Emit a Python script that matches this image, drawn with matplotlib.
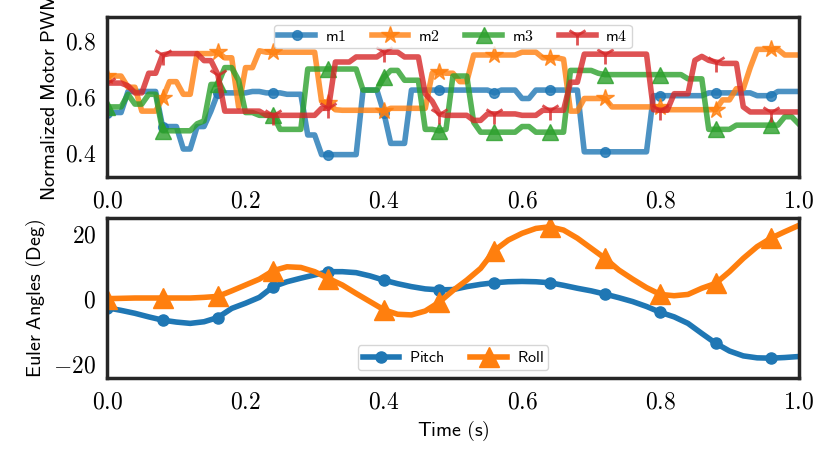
import numpy as np
import matplotlib
matplotlib.use('Agg')
import matplotlib.pyplot as plt
from matplotlib.ticker import FuncFormatter

# Motor PWM, sampled every 0.01 s
t_motor = np.linspace(0.0, 1.0, 101)
m1 = [0.54, 0.54, 0.54, 0.615, 0.615, 0.615, 0.615, 0.615, 0.49, 0.49,
      0.49, 0.41, 0.41, 0.49, 0.49, 0.545, 0.61, 0.61, 0.61, 0.61,
      0.61, 0.615, 0.615, 0.61, 0.61, 0.61, 0.605, 0.605, 0.605, 0.46,
      0.46, 0.39, 0.39, 0.39, 0.39, 0.39, 0.39, 0.62, 0.62, 0.62,
      0.54, 0.43, 0.43, 0.43, 0.62, 0.62, 0.62, 0.62, 0.62, 0.62,
      0.62, 0.62, 0.62, 0.62, 0.62, 0.62, 0.61, 0.62, 0.62, 0.62,
      0.59, 0.59, 0.62, 0.62, 0.62, 0.62, 0.62, 0.62, 0.62, 0.40,
      0.40, 0.40, 0.40, 0.40, 0.40, 0.40, 0.40, 0.40, 0.40, 0.60,
      0.60, 0.60, 0.60, 0.60, 0.60, 0.60, 0.60, 0.61, 0.61, 0.61,
      0.61, 0.61, 0.61, 0.61, 0.60, 0.60, 0.60, 0.615, 0.615, 0.615,
      0.615]
m2 = [0.67, 0.67, 0.67, 0.63, 0.63, 0.545, 0.545, 0.545, 0.59, 0.65,
      0.65, 0.605, 0.605, 0.75, 0.75, 0.75, 0.755, 0.735, 0.735, 0.56,
      0.70, 0.70, 0.76, 0.755, 0.755, 0.755, 0.755, 0.755, 0.755, 0.755,
      0.755, 0.58, 0.575, 0.55, 0.548, 0.548, 0.548, 0.548, 0.548, 0.548,
      0.545, 0.555, 0.555, 0.555, 0.555, 0.555, 0.555, 0.68, 0.685, 0.68,
      0.68, 0.65, 0.65, 0.745, 0.745, 0.745, 0.745, 0.745, 0.745, 0.745,
      0.755, 0.755, 0.755, 0.735, 0.735, 0.735, 0.73, 0.545, 0.545, 0.59,
      0.59, 0.59, 0.59, 0.56, 0.56, 0.56, 0.56, 0.56, 0.56, 0.56,
      0.56, 0.55, 0.55, 0.55, 0.55, 0.55, 0.55, 0.55, 0.55, 0.585,
      0.585, 0.625, 0.625, 0.70, 0.765, 0.765, 0.765, 0.765, 0.745, 0.745,
      0.745]
m3 = [0.56, 0.56, 0.56, 0.605, 0.57, 0.57, 0.605, 0.605, 0.475, 0.475,
      0.475, 0.475, 0.475, 0.50, 0.51, 0.64, 0.64, 0.70, 0.70, 0.655,
      0.54, 0.54, 0.53, 0.53, 0.53, 0.48, 0.48, 0.48, 0.48, 0.695,
      0.695, 0.695, 0.695, 0.695, 0.695, 0.695, 0.695, 0.62, 0.62, 0.62,
      0.665, 0.69, 0.69, 0.655, 0.655, 0.655, 0.48, 0.48, 0.475, 0.48,
      0.67, 0.67, 0.67, 0.505, 0.47, 0.47, 0.47, 0.47, 0.47, 0.47,
      0.49, 0.49, 0.47, 0.47, 0.47, 0.47, 0.47, 0.69, 0.69, 0.69,
      0.69, 0.68, 0.675, 0.675, 0.675, 0.675, 0.675, 0.675, 0.675, 0.675,
      0.675, 0.675, 0.675, 0.675, 0.66, 0.66, 0.66, 0.48, 0.48, 0.48,
      0.48, 0.495, 0.495, 0.495, 0.495, 0.495, 0.495, 0.495, 0.525, 0.525,
      0.50]
m4 = [0.645, 0.645, 0.645, 0.635, 0.61, 0.61, 0.68, 0.68, 0.745, 0.75,
      0.75, 0.75, 0.75, 0.75, 0.725, 0.725, 0.675, 0.545, 0.545, 0.545,
      0.545, 0.545, 0.545, 0.53, 0.53, 0.53, 0.53, 0.53, 0.53, 0.53,
      0.53, 0.555, 0.555, 0.72, 0.72, 0.72, 0.738, 0.738, 0.738, 0.738,
      0.755, 0.755, 0.755, 0.738, 0.738, 0.738, 0.607, 0.58, 0.535, 0.53,
      0.53, 0.53, 0.53, 0.512, 0.512, 0.535, 0.535, 0.535, 0.535, 0.535,
      0.53, 0.53, 0.53, 0.548, 0.548, 0.548, 0.548, 0.648, 0.648, 0.748,
      0.748, 0.748, 0.748, 0.748, 0.748, 0.748, 0.748, 0.748, 0.748, 0.55,
      0.548, 0.548, 0.607, 0.607, 0.607, 0.726, 0.74, 0.726, 0.72, 0.715,
      0.715, 0.715, 0.56, 0.542, 0.542, 0.542, 0.542, 0.542, 0.542, 0.542,
      0.542]

# Euler angles, sampled every 0.02 s
t_euler = np.linspace(0.0, 1.0, 51)
pitch = [-3.0, -3.8, -4.7, -5.8, -6.8, -7.4, -7.8, -7.3, -6.0, -3.2,
         -1.6, 0.2, 3.5, 5.0, 6.1, 7.1, 8.1, 8.1, 7.8, 6.8,
         5.5, 4.4, 3.5, 2.8, 2.5, 2.6, 3.5, 4.2, 4.7, 5.0,
         5.1, 5.0, 4.7, 3.9, 3.0, 2.2, 1.2, 0.1, -1.1, -2.6,
         -4.4, -5.8, -7.8, -10.9, -13.9, -16.3, -17.8, -18.4, -18.5, -18.3,
         -18.0]
roll = [-0.2, -0.1, 0.0, 0.0, 0.0, 0.0, 0.0, 0.2, 0.5, 2.2,
        4.0, 5.8, 8.4, 9.6, 9.4, 8.1, 6.0, 4.0, 1.4, -1.1,
        -3.6, -5.0, -5.2, -4.0, -1.3, 2.3, 5.5, 9.1, 14.6, 17.8,
        19.9, 21.4, 21.9, 20.9, 18.4, 15.3, 12.2, 8.6, 5.8, 3.2,
        1.1, 0.7, 1.1, 3.0, 4.5, 8.1, 12.2, 15.8, 18.4, 20.4,
        22.3]

plt.rcParams['mathtext.fontset'] = 'cm'

fig, (ax1, ax2) = plt.subplots(2, 1, figsize=(8.25, 4.5), dpi=100)
fig.subplots_adjust(left=0.13, right=0.968, top=0.962, bottom=0.16, hspace=0.256)

# Motor PWM
ax1.plot(t_motor, m1, color='#1f77b4', lw=4, alpha=0.8, marker='o', ms=7, markevery=8, label=r'$\mathsf{m1}$')
ax1.plot(t_motor, m2, color='#ff7f0e', lw=4, alpha=0.8, marker='*', ms=13, markevery=8, label=r'$\mathsf{m2}$')
ax1.plot(t_motor, m3, color='#2ca02c', lw=4, alpha=0.8, marker='^', ms=12, markevery=8, label=r'$\mathsf{m3}$')
ax1.plot(t_motor, m4, color='#d62728', lw=4, alpha=0.8, marker='1', ms=14, mew=2, markevery=8, label=r'$\mathsf{m4}$')
ax1.set_xlim(0, 1)
ax1.set_ylim(0.31, 0.88)
ax1.set_yticks([0.4, 0.6, 0.8])
ax1.set_ylabel(r'$\mathsf{Normalized\ Motor\ PWM}$', fontsize=14.5)
ax1.legend(loc='upper center', ncol=4, fontsize=11.5, handlelength=2.3, columnspacing=1.6,
           handletextpad=0.6, borderpad=0.25, borderaxespad=0.5, framealpha=0.8)

# Euler angles
ax2.plot(t_euler, pitch, color='#1f77b4', lw=4, marker='o', ms=8, markevery=4, label=r'$\mathsf{Pitch}$')
ax2.plot(t_euler, roll, color='#ff7f0e', lw=4, marker='^', ms=14, markevery=4, label=r'$\mathsf{Roll}$')
ax2.set_xlim(0, 1)
ax2.set_ylim(-24.6, 24.6)
ax2.set_yticks([-20, 0, 20])
ax2.set_ylabel(r'$\mathsf{Euler\ Angles\ (Deg)}$', fontsize=14.5)
ax2.set_xlabel(r'$\mathsf{Time\ (s)}$', fontsize=14.5)
ax2.legend(loc='lower center', ncol=2, fontsize=11.5, handlelength=2.3, columnspacing=1.6,
           handletextpad=0.6, borderpad=0.3, framealpha=0.8)

for ax in (ax1, ax2):
    ax.set_xticks([0.0, 0.2, 0.4, 0.6, 0.8, 1.0])
    ax.xaxis.set_major_formatter(FuncFormatter(lambda v, p: '$%.1f$' % v))
    ax.tick_params(length=0, labelsize=17, pad=8)
    for s in ax.spines.values():
        s.set_linewidth(2.5)
        s.set_color('#262626')

ax1.yaxis.set_major_formatter(FuncFormatter(lambda v, p: '$%.1f$' % v))
ax2.yaxis.set_major_formatter(FuncFormatter(lambda v, p: '$%d$' % v))

fig.savefig('out.png', dpi=100)
